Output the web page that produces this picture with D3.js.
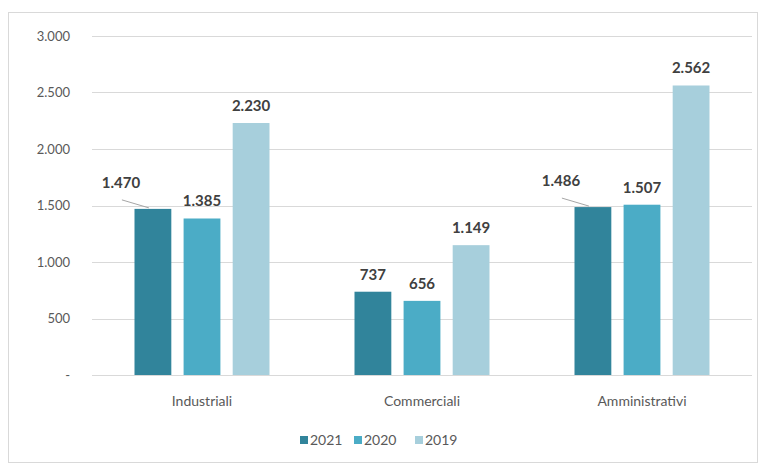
<!DOCTYPE html>
<html>
<head>
<meta charset="utf-8">
<script src="https://cdn.jsdelivr.net/npm/d3@7"></script>
<style>
  body { margin: 0; background: #fff; }
  svg { display: block; font-family: Lato, "Noto Sans", sans-serif; }
</style>
</head>
<body>
<div id="chart"></div>
<script>
// Data
const categories = ["Industriali", "Commerciali", "Amministrativi"];
const years = ["2021", "2020", "2019"];
const values2021 = [1470, 737, 1486];
const values2020 = [1385, 656, 1507];
const values2019 = [2230, 1149, 2562];
const yTicks = [0, 500, 1000, 1500, 2000, 2500, 3000];
const colors = ["#31849b", "#4bacc6", "#a7cfdc"];

const series = [values2021, values2020, values2019];

const width = 765, height = 467;
const margin = {top: 36, right: 13, bottom: 92, left: 92};

const svg = d3.select("#chart").append("svg")
  .attr("width", width)
  .attr("height", height);

// chart frame
svg.append("rect")
  .attr("x", 8.5).attr("y", 12.5)
  .attr("width", 749).attr("height", 450)
  .attr("fill", "#fff")
  .attr("stroke", "#d9d9d9");

const x0 = d3.scaleBand()
  .domain(categories)
  .range([margin.left, width - margin.right]);

const x1 = d3.scaleBand()
  .domain(years)
  .range([0, 135])
  .paddingInner(0.25);

const y = d3.scaleLinear()
  .domain([0, 3000])
  .range([height - margin.bottom, margin.top]);

// gridlines
svg.append("g")
  .selectAll("line")
  .data(yTicks)
  .join("line")
  .attr("x1", margin.left)
  .attr("x2", width - margin.right)
  .attr("y1", d => Math.round(y(d)) + 0.5)
  .attr("y2", d => Math.round(y(d)) + 0.5)
  .attr("stroke", "#d9d9d9")
  .attr("stroke-width", 1);

// y axis labels
const fmt = d => d === 0 ? "-" : d3.format(",")(d).replace(/,/g, ".");
svg.append("g")
  .selectAll("text")
  .data(yTicks)
  .join("text")
  .attr("x", 70)
  .attr("y", d => y(d))
  .attr("dy", "0.35em")
  .attr("text-anchor", "end")
  .attr("fill", "#595959")
  .style("font-size", "13px")
  .text(fmt);

// bars
const groups = svg.append("g")
  .selectAll("g")
  .data(categories)
  .join("g")
  .attr("transform", d => `translate(${x0(d) + (x0.bandwidth() - 135) / 2},0)`);

const cells = groups.selectAll("g.cell")
  .data((c, i) => years.map((yr, j) => ({cat: c, year: yr, value: series[j][i], j: j, i: i})))
  .join("g")
  .attr("class", "cell");

cells.append("rect")
  .attr("x", d => x1(d.year))
  .attr("width", x1.bandwidth())
  .attr("y", d => y(d.value))
  .attr("height", d => y(0) - y(d.value))
  .attr("fill", d => colors[d.j]);

// value labels; 2021 labels are moved left with a leader line
const labelFmt = d => d3.format(",")(d).replace(/,/g, ".");
cells.each(function(d) {
  const g = d3.select(this);
  const cx = x1(d.year) + x1.bandwidth() / 2;
  const top = y(d.value);
  let lx = cx, ly = top - 12;
  if (d.j === 0 && d.i !== 1) {
    lx = cx - 32;
    ly = top - 21;
    g.append("line")
      .attr("x1", lx + 1).attr("y1", ly + 12)
      .attr("x2", cx - 4).attr("y2", top - 1)
      .attr("stroke", "#a6a6a6")
      .attr("stroke-width", 1);
  }
  g.append("text")
    .attr("x", lx)
    .attr("y", ly)
    .attr("text-anchor", "middle")
    .attr("fill", "#404040")
    .style("font-size", "15px")
    .style("font-weight", "bold")
    .text(labelFmt(d.value));
});

// category labels
svg.append("g")
  .selectAll("text")
  .data(categories)
  .join("text")
  .attr("x", d => x0(d) + x0.bandwidth() / 2)
  .attr("y", y(0) + 31)
  .attr("text-anchor", "middle")
  .attr("fill", "#595959")
  .style("font-size", "14px")
  .text(d => d);

// legend
const legend = svg.append("g")
  .attr("transform", "translate(300,440)");
const legendX = [0, 54, 115];
const items = legend.selectAll("g")
  .data(years)
  .join("g")
  .attr("transform", (d, i) => `translate(${legendX[i]},0)`);
items.append("rect")
  .attr("x", 0).attr("y", -4)
  .attr("width", 8).attr("height", 8)
  .attr("fill", (d, i) => colors[i]);
items.append("text")
  .attr("x", 10)
  .attr("y", 0)
  .attr("dy", "0.35em")
  .attr("fill", "#595959")
  .style("font-size", "14px")
  .text(d => d);
</script>
</body>
</html>
